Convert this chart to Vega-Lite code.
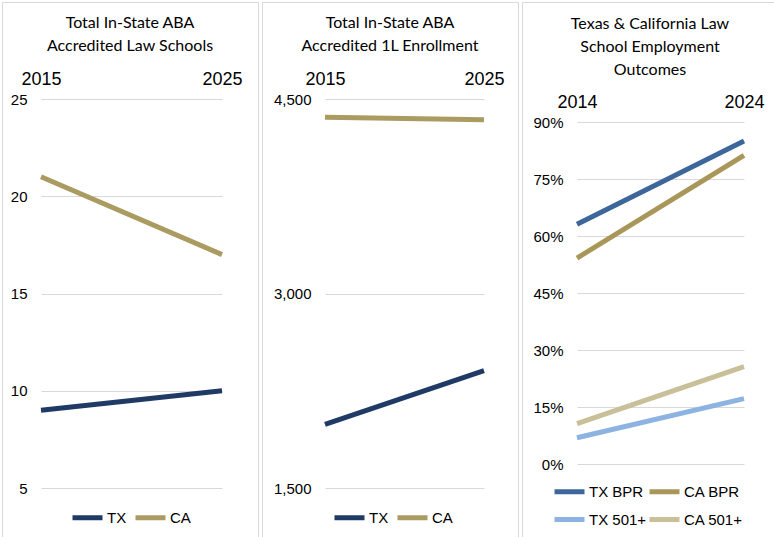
{
  "$schema": "https://vega.github.io/schema/vega-lite/v6.json",
  "padding": {"left": 1, "top": 1, "right": 0, "bottom": 0},
  "background": "white",
  "spacing": 2,
  "config": {
    "view": {"stroke": "#d9d9d9", "strokeWidth": 1},
    "font": "Arial",
    "title": {"font": "Lato", "fontSize": 16, "fontWeight": "normal", "color": "#000000", "anchor": "middle", "frame": "group", "lineHeight": 23},
    "axis": {"domain": false, "ticks": false, "labelFont": "Arial", "labelColor": "#000000", "title": null, "gridColor": "#d9d9d9", "gridWidth": 1},
    "legend": {"labelFont": "Arial", "labelFontSize": 15, "labelColor": "#000000", "symbolType": "stroke", "symbolSize": 900, "symbolStrokeWidth": 5, "labelOffset": 2, "columnPadding": -2, "rowPadding": -4, "padding": 0, "title": null}
  },
  "datasets": {
    "schools": [
      {"series": "TX", "year": 2015, "value": 9},
      {"series": "TX", "year": 2025, "value": 10},
      {"series": "CA", "year": 2015, "value": 21},
      {"series": "CA", "year": 2025, "value": 17}
    ],
    "enrollment": [
      {"series": "TX", "year": 2015, "value": 1990},
      {"series": "TX", "year": 2025, "value": 2405},
      {"series": "CA", "year": 2015, "value": 4360},
      {"series": "CA", "year": 2025, "value": 4340}
    ],
    "employment": [
      {"series": "TX BPR", "year": 2014, "value": 0.631},
      {"series": "TX BPR", "year": 2024, "value": 0.85},
      {"series": "CA BPR", "year": 2014, "value": 0.542},
      {"series": "CA BPR", "year": 2024, "value": 0.812},
      {"series": "TX 501+", "year": 2014, "value": 0.069},
      {"series": "TX 501+", "year": 2024, "value": 0.172},
      {"series": "CA 501+", "year": 2014, "value": 0.106},
      {"series": "CA 501+", "year": 2024, "value": 0.256}
    ]
  },
  "resolve": {"scale": {"x": "independent", "y": "independent", "color": "independent"}, "legend": {"color": "independent"}, "axis": {"x": "independent", "y": "independent"}},
  "hconcat": [
    {
      "width": 256, "height": 535,
      "title": {"text": ["Total In-State ABA", "Accredited Law Schools"], "offset": -52},
      "data": {"name": "schools"},
      "mark": {"type": "line", "strokeWidth": 5},
      "encoding": {
        "x": {"field": "year", "type": "quantitative", "scale": {"domain": [2015, 2025], "range": [39, 220], "nice": false, "zero": false},
              "axis": {"orient": "top", "offset": -97, "values": [2015, 2025], "format": "d", "grid": false, "labelFontSize": 18, "labelPadding": 11, "labelFlush": false}},
        "y": {"field": "value", "type": "quantitative", "scale": {"domain": [5, 25], "range": [486, 97], "nice": false, "zero": false},
              "axis": {"orient": "left", "offset": -30, "labelPadding": 5, "values": [5, 10, 15, 20, 25], "format": "d", "grid": true, "labelFontSize": 15}},
        "color": {"field": "series", "type": "nominal", "scale": {"domain": ["TX", "CA"], "range": ["#1f3a64", "#aa9c61"]},
                  "legend": {"orient": "none", "legendX": 68, "legendY": 498, "direction": "horizontal"}}
      }
    },
    {
      "width": 256, "height": 535,
      "title": {"text": ["Total In-State ABA", "Accredited 1L Enrollment"], "offset": -52},
      "data": {"name": "enrollment"},
      "mark": {"type": "line", "strokeWidth": 5},
      "encoding": {
        "x": {"field": "year", "type": "quantitative", "scale": {"domain": [2015, 2025], "range": [63, 222], "nice": false, "zero": false},
              "axis": {"orient": "top", "offset": -97, "values": [2015, 2025], "format": "d", "grid": false, "labelFontSize": 18, "labelPadding": 11, "labelFlush": false}},
        "y": {"field": "value", "type": "quantitative", "scale": {"domain": [1500, 4500], "range": [486, 97], "nice": false, "zero": false},
              "axis": {"orient": "left", "offset": -54, "labelPadding": 5, "values": [1500, 3000, 4500], "format": ",d", "grid": true, "labelFontSize": 15}},
        "color": {"field": "series", "type": "nominal", "scale": {"domain": ["TX", "CA"], "range": ["#1f3a64", "#aa9c61"]},
                  "legend": {"orient": "none", "legendX": 70, "legendY": 498, "direction": "horizontal"}}
      }
    },
    {
      "width": 256, "height": 535,
      "title": {"text": ["Texas & California Law", "School Employment", "Outcomes"], "offset": -76},
      "data": {"name": "employment"},
      "mark": {"type": "line", "strokeWidth": 5},
      "encoding": {
        "x": {"field": "year", "type": "quantitative", "scale": {"domain": [2014, 2024], "range": [55, 222], "nice": false, "zero": false},
              "axis": {"orient": "top", "offset": -120, "values": [2014, 2024], "format": "d", "grid": false, "labelFontSize": 18, "labelPadding": 11, "labelFlush": false}},
        "y": {"field": "value", "type": "quantitative", "scale": {"domain": [0, 0.9], "range": [462, 120], "nice": false, "zero": false},
              "axis": {"orient": "left", "offset": -46, "labelPadding": 5, "values": [0, 0.15, 0.3, 0.45, 0.6, 0.75, 0.9], "format": ".0%", "grid": true, "labelFontSize": 15}},
        "color": {"field": "series", "type": "nominal", "scale": {"domain": ["TX BPR", "CA BPR", "TX 501+", "CA 501+"], "range": ["#3d669a", "#a89759", "#8db3e2", "#c9bf99"]},
                  "legend": {"orient": "none", "legendX": 30, "legendY": 472, "direction": "horizontal", "columns": 2, "columnPadding": -10}}
      }
    }
  ]
}
